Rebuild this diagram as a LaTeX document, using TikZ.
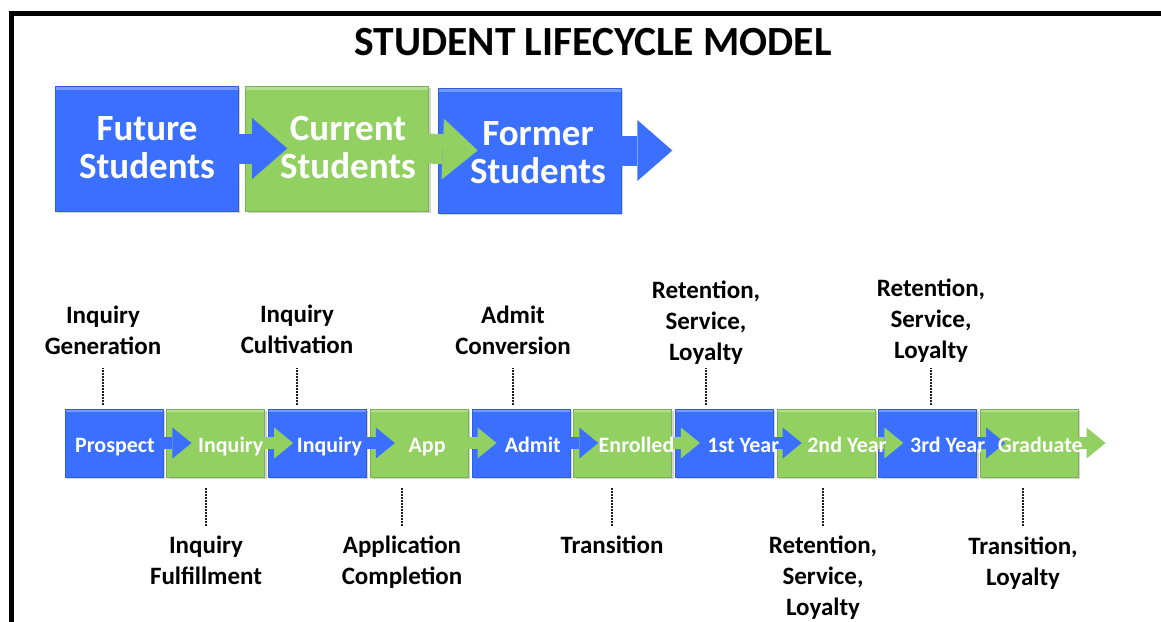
\documentclass[tikz,border=0pt]{standalone}
\usepackage{fontspec}
\setmainfont{Carlito}
\usetikzlibrary{arrows.meta,shadows}

\definecolor{stageblue}{RGB}{58,111,255}
\definecolor{stagegreen}{RGB}{146,208,98}

\tikzset{
    phasebox/.style={draw=#1!85!black, line width=0.6pt, fill=#1, minimum width=183pt, minimum height=125pt, inner sep=0pt,
        drop shadow={shadow xshift=2pt, shadow yshift=-2pt, opacity=0.35},
        path picture={\fill[white, opacity=0.3] (path picture bounding box.north west) rectangle ([yshift=-4pt]path picture bounding box.north east);}},
    stagebox/.style={draw=#1!85!black, line width=0.5pt, fill=#1, minimum width=98pt, minimum height=68pt, inner sep=0pt,
        drop shadow={shadow xshift=2pt, shadow yshift=-2pt, opacity=0.35},
        path picture={\fill[white, opacity=0.3] (path picture bounding box.north west) rectangle ([yshift=-3pt]path picture bounding box.north east);}},
    phasetext/.style={text=white, font=\bfseries\fontsize{37}{38}\selectfont, align=center, inner sep=0pt},
    stagetext/.style={text=white, font=\bfseries\fontsize{22}{24}\selectfont, anchor=base, inner sep=0pt},
    lifelabel/.style={font=\bfseries\fontsize{25}{31}\selectfont, align=center, inner sep=0pt},
    bigarrow/.style={draw=#1, line width=30pt, -{Triangle[length=35pt, width=61pt, line width=0pt]}},
    smallarrow/.style={draw=#1, line width=12pt, -{Triangle[length=19pt, width=31pt, line width=0pt]}},
    dotline/.style={line width=1.5pt, gray!25!black, dash pattern=on 1.5pt off 1.5pt},
    frameline/.style={line width=5pt, black}
}

\begin{document}
\begin{tikzpicture}[x=1pt, y=-1pt]
    \def\stepdist{101.7}
    \def\rowy{443}
    \useasboundingbox (0,0) rectangle (1161,621);
    \clip (0,0) rectangle (1161,621);

    % frame and title
    \draw[frameline] (11,640) -- (11,13) -- (1180,13);
    \node[font=\bfseries\fontsize{41.5}{42}\selectfont] (title) at (593,42) {STUDENT LIFECYCLE MODEL};

    % phases
    \node[phasebox=stageblue] (future) at (146.5,148.5) {};
    \node[phasebox=stagegreen] (current) at (337,148.5) {};
    \node[phasebox=stageblue] (former) at (529.5,150.5) {};
    \coordinate (formerout) at ([xshift=51pt]former.east);
    \draw[bigarrow=stageblue] ([xshift=-6pt]future.east) -- ([xshift=42pt]current.west);
    \draw[bigarrow=stagegreen] ([xshift=-2pt]current.east) -- ([xshift=40pt]former.west);
    \draw[bigarrow=stageblue] ([xshift=-5pt]former.east) -- (formerout);
    \node[phasetext] (futuretext) at (147,148) {Future\\Students};
    \node[phasetext] (currenttext) at (348,148) {Current\\Students};
    \node[phasetext] (formertext) at (538,153) {Former\\Students};

    % stages
    \node[stagebox=stageblue] (s1) at (114,\rowy) {};
    \node[stagebox=stagegreen] (s2) at ({114+\stepdist},\rowy) {};
    \node[stagebox=stageblue] (s3) at ({114+2*\stepdist},\rowy) {};
    \node[stagebox=stagegreen] (s4) at ({114+3*\stepdist},\rowy) {};
    \node[stagebox=stageblue] (s5) at ({114+4*\stepdist},\rowy) {};
    \node[stagebox=stagegreen] (s6) at ({114+5*\stepdist},\rowy) {};
    \node[stagebox=stageblue] (s7) at ({114+6*\stepdist},\rowy) {};
    \node[stagebox=stagegreen] (s8) at ({114+7*\stepdist},\rowy) {};
    \node[stagebox=stageblue] (s9) at ({114+8*\stepdist},\rowy) {};
    \node[stagebox=stagegreen] (s10) at ({114+9*\stepdist},\rowy) {};
    \coordinate (s10out) at ([xshift=27pt]s10.east);
    \draw[smallarrow=stageblue] ([xshift=-4pt]s1.east) -- ([xshift=25pt]s2.west);
    \draw[smallarrow=stagegreen] ([xshift=-4pt]s2.east) -- ([xshift=25pt]s3.west);
    \draw[smallarrow=stageblue] ([xshift=-4pt]s3.east) -- ([xshift=25pt]s4.west);
    \draw[smallarrow=stagegreen] ([xshift=-4pt]s4.east) -- ([xshift=25pt]s5.west);
    \draw[smallarrow=stageblue] ([xshift=-4pt]s5.east) -- ([xshift=25pt]s6.west);
    \draw[smallarrow=stagegreen] ([xshift=-4pt]s6.east) -- ([xshift=25pt]s7.west);
    \draw[smallarrow=stageblue] ([xshift=-4pt]s7.east) -- ([xshift=25pt]s8.west);
    \draw[smallarrow=stagegreen] ([xshift=-4pt]s8.east) -- ([xshift=25pt]s9.west);
    \draw[smallarrow=stageblue] ([xshift=-4pt]s9.east) -- ([xshift=25pt]s10.west);
    \draw[smallarrow=stagegreen] ([xshift=-4pt]s10.east) -- (s10out);
    \node[stagetext] (t1) at ([xshift=1pt, yshift=-9pt]s1.center) {Prospect};
    \node[stagetext] (t2) at ([xshift=15pt, yshift=-9pt]s2.center) {Inquiry};
    \node[stagetext] (t3) at ([xshift=12pt, yshift=-9pt]s3.center) {Inquiry};
    \node[stagetext] (t4) at ([xshift=8pt, yshift=-9pt]s4.center) {App};
    \node[stagetext] (t5) at ([xshift=12pt, yshift=-9pt]s5.center) {Admit};
    \node[stagetext] (t6) at ([xshift=14pt, yshift=-9pt]s6.center) {Enrolled};
    \node[stagetext] (t7) at ([xshift=19pt, yshift=-9pt]s7.center) {1st Year};
    \node[stagetext] (t8) at ([xshift=21pt, yshift=-9pt]s8.center) {2nd Year};
    \node[stagetext] (t9) at ([xshift=20pt, yshift=-9pt]s9.center) {3rd Year};
    \node[stagetext] (t10) at ([xshift=11pt, yshift=-9pt]s10.center) {Graduate};

    % labels above
    \node[lifelabel] (generation) at (103,330) {Inquiry\\Generation};
    \node[lifelabel] (cultivation) at (297,329) {Inquiry\\Cultivation};
    \node[lifelabel] (conversion) at (513,330) {Admit\\Conversion};
    \node[lifelabel] (retainA) at (706,323) {Retention,\\Service,\\Loyalty};
    \node[lifelabel] (retainB) at (931,321) {Retention,\\Service,\\Loyalty};
    \draw[dotline] ([yshift=4pt]s1.north -| generation) -- ([yshift=41pt]s1.north -| generation);
    \draw[dotline] ([yshift=4pt]s3.north -| cultivation) -- ([yshift=41pt]s3.north -| cultivation);
    \draw[dotline] ([yshift=4pt]s5.north -| conversion) -- ([yshift=41pt]s5.north -| conversion);
    \draw[dotline] ([yshift=4pt]s7.north -| retainA) -- ([yshift=41pt]s7.north -| retainA);
    \draw[dotline] ([yshift=4pt]s9.north -| retainB) -- ([yshift=41pt]s9.north -| retainB);

    % labels below
    \node[lifelabel] (fulfillment) at (206,560) {Inquiry\\Fulfillment};
    \node[lifelabel] (completion) at (402,562) {Application\\Completion};
    \node[lifelabel] (transition) at (612,545) {Transition};
    \node[lifelabel] (retainC) at (823,578) {Retention,\\Service,\\Loyalty};
    \node[lifelabel] (transloyal) at (1023,563) {Transition,\\Loyalty};
    \draw[dotline] ([yshift=-11pt]s2.south -| fulfillment) -- ([yshift=-49pt]s2.south -| fulfillment);
    \draw[dotline] ([yshift=-11pt]s4.south -| completion) -- ([yshift=-49pt]s4.south -| completion);
    \draw[dotline] ([yshift=-11pt]s6.south -| transition) -- ([yshift=-49pt]s6.south -| transition);
    \draw[dotline] ([yshift=-11pt]s8.south -| retainC) -- ([yshift=-49pt]s8.south -| retainC);
    \draw[dotline] ([yshift=-11pt]s10.south -| transloyal) -- ([yshift=-49pt]s10.south -| transloyal);
\end{tikzpicture}
\end{document}
